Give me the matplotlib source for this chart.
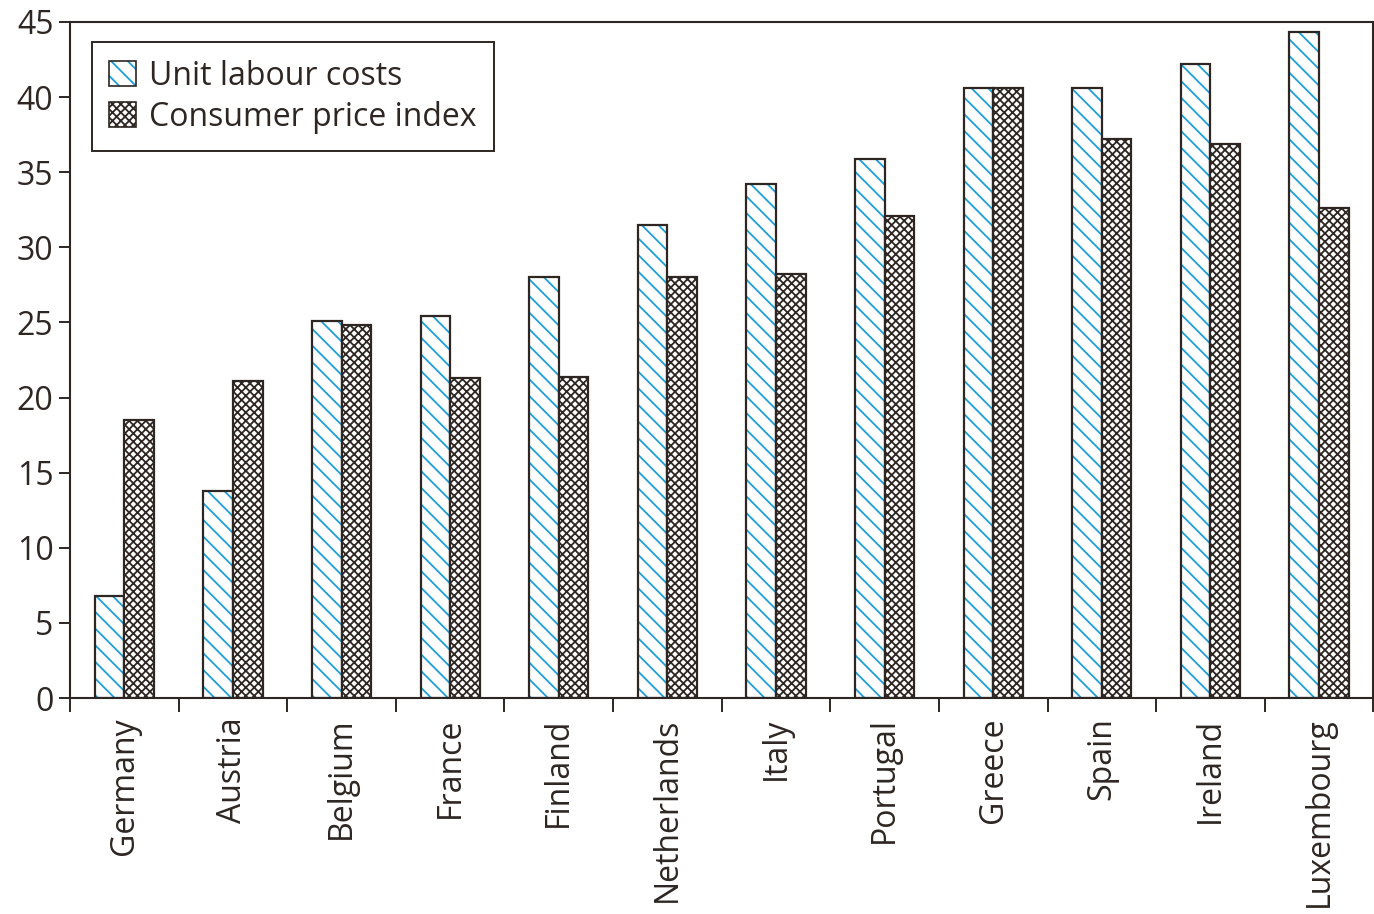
import matplotlib.pyplot as plt
import numpy as np

plt.rcParams['font.family'] = ['Open Sans', 'DejaVu Sans']
plt.rcParams['hatch.linewidth'] = 1.3

countries = ['Germany', 'Austria', 'Belgium', 'France', 'Finland', 'Netherlands',
             'Italy', 'Portugal', 'Greece', 'Spain', 'Ireland', 'Luxembourg']
unit_labour = [6.8, 13.8, 25.1, 25.4, 28.0, 31.5, 34.2, 35.9, 40.6, 40.6, 42.2, 44.3]
cpi = [18.5, 21.1, 24.8, 21.3, 21.4, 28.0, 28.2, 32.1, 40.6, 37.2, 36.9, 32.6]

dark = '#2e2622'
blue = '#1e9fd8'

fig = plt.figure(figsize=(13.74, 9.14), dpi=100)
ax = fig.add_axes([0.051, 0.2363, 0.9485, 0.7397])

x = np.arange(len(countries))
w = 0.272

# hatch layer then outline layer, so hatch colour can differ from edge colour
ax.bar(x - w/2, unit_labour, w, color='white', edgecolor=blue, hatch='\\\\', linewidth=0)
ax.bar(x - w/2, unit_labour, w, color='none', edgecolor=dark, linewidth=1.6)
ax.bar(x + w/2, cpi, w, color='white', edgecolor=dark, hatch='xxxx', linewidth=0)
ax.bar(x + w/2, cpi, w, color='none', edgecolor=dark, linewidth=1.6)

ax.set_xlim(-0.5, len(countries) - 0.5)
ax.set_ylim(0, 45)
ax.set_yticks(range(0, 46, 5))
ax.tick_params(axis='y', labelsize=23, length=8, width=1.4, color=dark, labelcolor=dark, pad=4)

ax.set_xticks(np.arange(len(countries) + 1) - 0.5)
ax.set_xticklabels([])
ax.set_xticks(x, minor=True)
ax.set_xticklabels(countries, minor=True, rotation=90, fontsize=23, color=dark, va='top')
ax.tick_params(axis='x', which='major', length=10, width=1.4, color=dark)
ax.tick_params(axis='x', which='minor', length=0, pad=14)

for s in ax.spines.values():
    s.set_color(dark)
    s.set_linewidth(1.5)

h1 = plt.Rectangle((0, 0), 1, 1, facecolor='white', edgecolor=blue, hatch='\\\\', linewidth=0)
h2 = plt.Rectangle((0, 0), 1, 1, facecolor='white', edgecolor=dark, hatch='xxxx', linewidth=0)
h1o = plt.Rectangle((0, 0), 1, 1, facecolor='none', edgecolor=dark, linewidth=1.2)
leg = ax.legend([(h1, h1o), (h2, h1o)], ['Unit labour costs', 'Consumer price index'],
                loc='upper left', bbox_to_anchor=(0.0165, 0.97), fontsize=23,
                fancybox=False, framealpha=1, edgecolor=dark, labelcolor=dark,
                handlelength=0.85, handleheight=0.85, handletextpad=0.4,
                borderpad=0.55, labelspacing=0.25, borderaxespad=0)
leg.get_frame().set_linewidth(1.4)

fig.savefig('out.png', dpi=100)
